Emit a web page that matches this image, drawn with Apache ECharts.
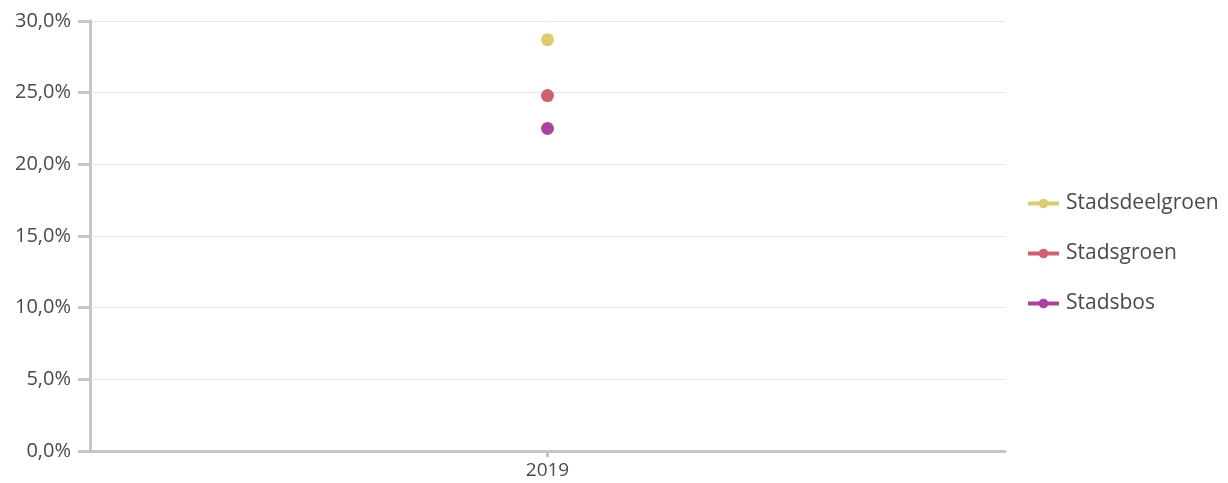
<!DOCTYPE html>
<html><head><meta charset="utf-8">
<script src="https://cdn.jsdelivr.net/npm/echarts@6/dist/echarts.min.js"></script>
<style>html,body{margin:0;padding:0;background:#fff}#c{width:1228px;height:483px}</style>
</head><body><div id="c"></div>
<script>
const categories = ['2019'];
const seriesNames = ['Stadsdeelgroen', 'Stadsgroen', 'Stadsbos'];
const stadsdeelgroen = [28.7];
const stadsgroen = [24.8];
const stadsbos = [22.5];
const yTicks = [0, 5, 10, 15, 20, 25, 30];
const colors = ['#dccb6f', '#d0606f', '#a8449c'];
const values = [stadsdeelgroen, stadsgroen, stadsbos];

const font = '"Open Sans", "Noto Sans", sans-serif';
const chart = echarts.init(document.getElementById('c'));
chart.setOption({
  animation: false,
  grid: { left: 90, right: 223, top: 21, bottom: 32, containLabel: false },
  legend: {
    orient: 'vertical', left: 1021, top: 188,
    itemWidth: 31, itemHeight: 12, itemGap: 29,
    lineStyle: { width: 4 },
    textStyle: { fontFamily: font, fontSize: 21, color: '#4a4a4a', padding: [0, 0, 0, 2] },
    data: seriesNames
  },
  xAxis: {
    type: 'category', data: categories, boundaryGap: true,
    axisLine: { lineStyle: { color: '#c6c6c6', width: 3 } },
    axisTick: { show: true, alignWithLabel: true, length: 6, lineStyle: { color: '#c6c6c6', width: 3 } },
    axisLabel: { fontFamily: font, fontSize: 19, color: '#4a4a4a', margin: 10 }
  },
  yAxis: {
    type: 'value', min: yTicks[0], max: yTicks[yTicks.length - 1], interval: 5,
    axisLine: { show: true, lineStyle: { color: '#c6c6c6', width: 3 } },
    axisTick: { show: true, length: 12, lineStyle: { color: '#c6c6c6', width: 3 } },
    splitLine: { lineStyle: { color: '#e8e8e8', width: 1 } },
    axisLabel: {
      fontFamily: font, fontSize: 20, color: '#4a4a4a', margin: 19,
      formatter: v => v.toFixed(1).replace('.', ',') + '%'
    }
  },
  series: seriesNames.map((n, i) => ({
    name: n, type: 'line', data: values[i],
    symbol: 'circle', symbolSize: 13,
    itemStyle: { color: colors[i] },
    lineStyle: { color: colors[i], width: 3 }
  }))
});
</script></body></html>
